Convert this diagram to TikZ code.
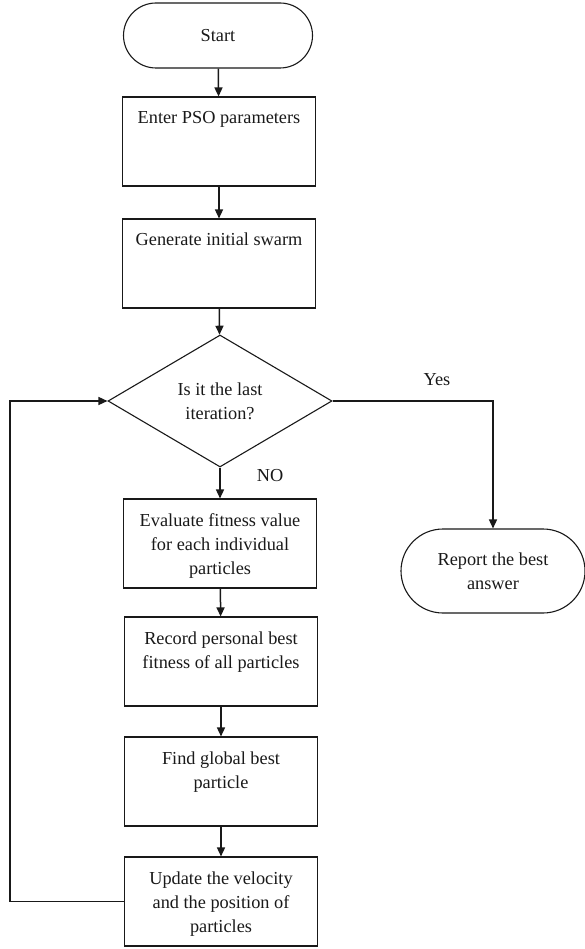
\documentclass[tikz,border=0pt]{standalone}
\usepackage{fontspec}
\setmainfont{Liberation Serif}
\usetikzlibrary{positioning,shapes.geometric,shapes.misc,arrows.meta}
\tikzset{
    proc/.style={draw, rectangle, line width=1.1pt, align=center,
        minimum width=193pt, inner sep=0pt, text height=27pt, text depth=62pt},
    proc2/.style={proc, text height=51pt, text depth=38pt},
    proc3/.style={proc, text height=75pt, text depth=14pt},
    term/.style={draw, rounded rectangle, line width=1.1pt, align=center,
        inner sep=0pt},
    decide/.style={draw, diamond, aspect=1.7, line width=1.1pt, align=center,
        inner sep=0pt, minimum width=224pt, minimum height=132pt},
    flow/.style={line width=1.5pt, -{Triangle[length=9pt,width=8pt]}},
}

\begin{document}
\begin{tikzpicture}[x=1pt,y=-1pt,font=\fontsize{18.3}{24}\selectfont,color={black!90}]
      \useasboundingbox (0,0) rectangle (585,949);

      \node[term, minimum width=189pt, minimum height=65pt] (start) at (218,35.5) {Start};
      \node[proc] (enter) at (219,141.5) {Enter PSO parameters};
      \node[proc] (init) at (219,263.5) {Generate initial swarm};
      \node[decide] (last) at (220,401) {Is it the last\\iteration?};
      \node[proc3] (fit) at (220,543.5) {Evaluate fitness value\\for each individual\\particles};
      \node[proc2] (pbest) at (221,661.5) {Record personal best\\fitness of all particles};
      \node[proc2] (gbest) at (221,781.5) {Find global best\\particle};
      \node[proc3] (upd) at (221,901.5) {Update the velocity\\and the position of\\particles};
      \node[term, minimum width=184pt, minimum height=84pt] (report) at (493,571) {Report the best\\answer};
      \coordinate (back) at (10,401);

      % main column
      \draw[flow] (start) -- (enter);
      \draw[flow] (enter) -- (init);
      \draw[flow] (init) -- (last);
      \draw[flow] (last) -- (fit);
      \draw[flow] (fit) -- (pbest);
      \draw[flow] (pbest) -- (gbest);
      \draw[flow] (gbest) -- (upd);

      % branches
      \draw[flow] (last.east) -| (report.north);
      \draw[flow] (upd.west) -| (back) -- (last.west);

      \node (yes) at (437,380) {Yes};
      \node (no) at (270,476) {NO};
\end{tikzpicture}
\end{document}
